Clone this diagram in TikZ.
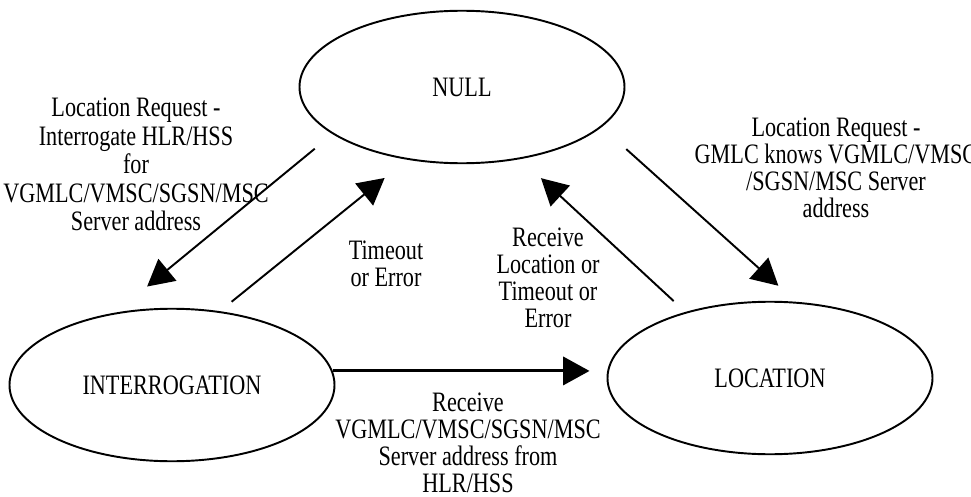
\documentclass[tikz,border=0pt]{standalone}
\usepackage{fontspec}
\setmainfont{Liberation Serif}[FakeStretch=0.79]
\usetikzlibrary{shapes.geometric,arrows.meta}
\tikzset{
	state/.style={ellipse,draw,line width=1.1pt,minimum width=6.5cm,minimum height=3.05cm},
	lbl/.style={align=center},
	arr/.style={line width=1.1pt,-{Triangle[length=15pt,width=16pt]}}
}
\begin{document}
\begin{tikzpicture}[font=\fontsize{16}{15.3}\selectfont]
	\useasboundingbox (0,0) rectangle (19.42,9.92);
	\node [state] (null) at (9.24,8.18) {NULL};
	\node [state] (intr) at (3.44,2.22) {INTERROGATION};
	\node [state] (loc) at (15.40,2.36) {LOCATION};
	
	\draw [arr,shorten <=0.46cm,shorten >=0.82cm] (null.200) -- (intr.128);
	\draw [arr,shorten <=0.3cm,shorten >=0.58cm] (intr.57) -- (null.233);
	\draw [arr,shorten <=0.32cm,shorten >=0.56cm] (loc.142) -- (null.309);
	\draw [arr,shorten <=0.66cm,shorten >=0.48cm] (null.344) -- (loc.71);
	\draw [arr,line width=1.7pt,shorten >=0.34cm] (intr.5) -- (intr.5 -| loc.west);
	
	\node [lbl,font=\fontsize{16}{16.3}\selectfont] (reqhlr) at (2.72,6.63) {Location Request -\\Interrogate HLR/HSS\\for\\VGMLC/VMSC/SGSN/MSC\\Server address};
	\node [lbl] (reqgmlc) at (16.72,6.56) {Location Request -\\GMLC knows VGMLC/VMSC\\/SGSN/MSC Server\\address};
	\node [lbl] (tmo) at (7.72,4.64) {Timeout\\or Error};
	\node [lbl] (rcvloc) at (10.96,4.37) {Receive\\Location or\\Timeout or\\Error};
	\node [lbl] (rcvaddr) at (9.36,1.06) {Receive\\VGMLC/VMSC/SGSN/MSC\\Server address from\\HLR/HSS};
\end{tikzpicture}
\end{document}
